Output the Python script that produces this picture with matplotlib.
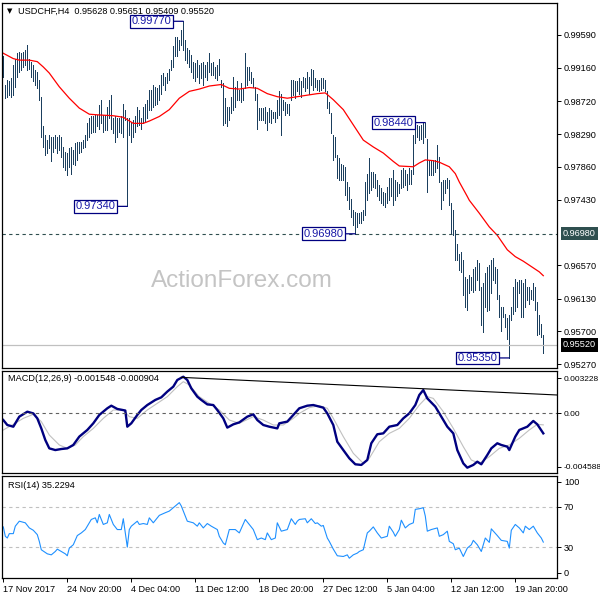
import numpy as np
import matplotlib.pyplot as plt

plt.rcParams['font.family'] = ['Liberation Sans', 'DejaVu Sans']

# H4 bars, 17 Nov 2017 12:00 .. 22 Jan 2018 (high / low)
bar_high = [
    0.9931, 0.9893, 0.9900, 0.9898, 0.9902, 0.9920, 0.9928, 0.9935, 0.9937, 0.9936,
    0.9937, 0.9939, 0.9946, 0.9928, 0.9924, 0.9920, 0.9913, 0.9911, 0.9900, 0.9878,
    0.9839, 0.9828, 0.9821, 0.9828, 0.9825, 0.9825, 0.9828, 0.9825, 0.9828, 0.9825,
    0.9812, 0.9806, 0.9804, 0.9810, 0.9812, 0.9808, 0.9817, 0.9819, 0.9819, 0.9819,
    0.9821, 0.9828, 0.9843, 0.9850, 0.9852, 0.9852, 0.9854, 0.9854, 0.9867, 0.9874,
    0.9854, 0.9854, 0.9865, 0.9874, 0.9880, 0.9850, 0.9852, 0.9850, 0.9850, 0.9852,
    0.9869, 0.9861, 0.9850, 0.9850, 0.9845, 0.9847, 0.9852, 0.9865, 0.9861, 0.9850,
    0.9865, 0.9869, 0.9874, 0.9887, 0.9887, 0.9893, 0.9891, 0.9889, 0.9893, 0.9907,
    0.9909, 0.9904, 0.9909, 0.9915, 0.9926, 0.9944, 0.9957, 0.9957, 0.9952, 0.9966,
    0.9977, 0.9952, 0.9942, 0.9939, 0.9933, 0.9924, 0.9922, 0.9926, 0.9920,
    0.9922, 0.9924, 0.9920, 0.9924, 0.9936, 0.9922, 0.9924, 0.9917, 0.9920, 0.9927,
    0.9900, 0.9896, 0.9876, 0.9865, 0.9865, 0.9878, 0.9904, 0.9891, 0.9898, 0.9887,
    0.9896, 0.9889, 0.9935, 0.9917, 0.9917, 0.9911, 0.9902, 0.9891, 0.9882, 0.9863,
    0.9863, 0.9863, 0.9865, 0.9858, 0.9863, 0.9861, 0.9858, 0.9858, 0.9874, 0.9885,
    0.9882, 0.9874, 0.9871, 0.9869, 0.9869, 0.9900, 0.9900, 0.9898, 0.9898, 0.9902,
    0.9898, 0.9904, 0.9902, 0.9911, 0.9904, 0.9915, 0.9913, 0.9902, 0.9900, 0.9900,
    0.9902, 0.9902, 0.9900, 0.9885, 0.9871, 0.9856, 0.9828, 0.9825, 0.9801, 0.9797,
    0.9790, 0.9788, 0.9786, 0.9766, 0.9760, 0.9744, 0.9729, 0.9727, 0.9725, 0.9725,
    0.9727, 0.9729, 0.9766, 0.9777, 0.9797, 0.9779, 0.9779, 0.9777, 0.9769, 0.9762,
    0.9758, 0.9753, 0.9751, 0.9760, 0.9771, 0.9771, 0.9782, 0.9769, 0.9766, 0.9764,
    0.9782, 0.9784, 0.9782, 0.9777, 0.9784, 0.9782, 0.9828, 0.9841, 0.9841, 0.9839,
    0.9841, 0.9843, 0.9844, 0.9823, 0.9795, 0.9793, 0.9795, 0.9795, 0.9814, 0.9799,
    0.9766, 0.9769, 0.9769, 0.9771, 0.9769, 0.9738, 0.9729, 0.9703, 0.9685, 0.9672,
    0.9674, 0.9663, 0.9641, 0.9639, 0.9644, 0.9641, 0.9652, 0.9655, 0.9663, 0.9659,
    0.9628, 0.9633, 0.9646, 0.9655, 0.9657, 0.9663, 0.9666, 0.9655, 0.9652, 0.9617,
    0.9602, 0.9602, 0.9593, 0.9587, 0.9591, 0.9602, 0.9628, 0.9639, 0.9635, 0.9637,
    0.9637, 0.9633, 0.9639, 0.9628, 0.9628, 0.9624, 0.9633, 0.9628, 0.9609, 0.9591,
    0.9580, 0.95651,
]
bar_low = [
    0.9904, 0.9876, 0.9878, 0.9880, 0.9878, 0.9880, 0.9891, 0.9904, 0.9911, 0.9913,
    0.9917, 0.9920, 0.9913, 0.9915, 0.9904, 0.9898, 0.9893, 0.9889, 0.9874, 0.9825,
    0.9812, 0.9801, 0.9804, 0.9810, 0.9793, 0.9806, 0.9810, 0.9804, 0.9808, 0.9799,
    0.9786, 0.9782, 0.9775, 0.9786, 0.9777, 0.9790, 0.9788, 0.9795, 0.9804, 0.9806,
    0.9810, 0.9812, 0.9821, 0.9825, 0.9830, 0.9832, 0.9832, 0.9839, 0.9836, 0.9843,
    0.9832, 0.9834, 0.9834, 0.9850, 0.9836, 0.9830, 0.9819, 0.9825, 0.9832, 0.9830,
    0.9825, 0.9847, 0.9734, 0.9828, 0.9819, 0.9825, 0.9832, 0.9839, 0.9841, 0.9836,
    0.9843, 0.9845, 0.9850, 0.9861, 0.9861, 0.9865, 0.9867, 0.9869, 0.9874, 0.9882,
    0.9893, 0.9887, 0.9896, 0.9900, 0.9913, 0.9917, 0.9931, 0.9931, 0.9939, 0.9946,
    0.9939, 0.9926, 0.9922, 0.9917, 0.9911, 0.9902, 0.9898, 0.9904, 0.9896,
    0.9902, 0.9893, 0.9904, 0.9900, 0.9911, 0.9907, 0.9907, 0.9902, 0.9900, 0.9907,
    0.9891, 0.9841, 0.9843, 0.9839, 0.9847, 0.9856, 0.9861, 0.9865, 0.9874, 0.9874,
    0.9871, 0.9874, 0.9889, 0.9893, 0.9900, 0.9896, 0.9891, 0.9874, 0.9836, 0.9847,
    0.9847, 0.9847, 0.9843, 0.9834, 0.9845, 0.9843, 0.9850, 0.9845, 0.9850, 0.9854,
    0.9828, 0.9861, 0.9854, 0.9856, 0.9854, 0.9874, 0.9880, 0.9876, 0.9885, 0.9882,
    0.9878, 0.9891, 0.9885, 0.9889, 0.9882, 0.9893, 0.9887, 0.9891, 0.9887, 0.9885,
    0.9887, 0.9889, 0.9885, 0.9863, 0.9856, 0.9830, 0.9795, 0.9799, 0.9771, 0.9769,
    0.9769, 0.9769, 0.9749, 0.9742, 0.9731, 0.9720, 0.9709, 0.9698, 0.9707, 0.9712,
    0.9712, 0.9716, 0.9723, 0.9742, 0.9751, 0.9755, 0.9760, 0.9758, 0.9747, 0.9742,
    0.9738, 0.9736, 0.9733, 0.9738, 0.9742, 0.9747, 0.9736, 0.9742, 0.9747, 0.9751,
    0.9758, 0.9760, 0.9762, 0.9755, 0.9764, 0.9764, 0.9777, 0.9817, 0.9825, 0.9821,
    0.9823, 0.9817, 0.9825, 0.9753, 0.9775, 0.9775, 0.9775, 0.9779, 0.9784, 0.9766,
    0.9731, 0.9742, 0.9751, 0.9758, 0.9736, 0.9698, 0.9696, 0.9663, 0.9663, 0.9650,
    0.9648, 0.9617, 0.9602, 0.9598, 0.9620, 0.9624, 0.9622, 0.9624, 0.9637, 0.9624,
    0.9578, 0.9569, 0.9602, 0.9596, 0.9598, 0.9620, 0.9637, 0.9633, 0.9613, 0.9589,
    0.9571, 0.9589, 0.9576, 0.9560, 0.9535, 0.9585, 0.9593, 0.9596, 0.9602, 0.9620,
    0.9589, 0.9589, 0.9602, 0.9611, 0.9606, 0.9613, 0.9611, 0.9598, 0.9565, 0.9567,
    0.9563, 0.95409,
]

# red moving average, sampled along the bars
ma_idx = [0, 5, 8, 13, 17, 20, 23, 28, 33, 38, 43, 48, 55, 60, 65, 70, 73, 78, 83, 88,
          93, 98, 103, 109, 113, 118, 123, 127, 132, 137, 142, 147, 152, 157, 161, 165,
          170, 175, 180, 185, 190, 195, 198, 205, 208, 211, 215, 218, 223, 226, 228, 232,
          233, 238, 243, 247, 252, 256, 260, 264, 268, 270]
ma_val = [0.9935, 0.9928, 0.9926, 0.9926, 0.9924, 0.9917, 0.9909, 0.9891, 0.9876, 0.9863,
          0.9855, 0.9854, 0.9853, 0.9851, 0.9843, 0.9843, 0.9846, 0.9852, 0.9861, 0.9876,
          0.9885, 0.9888, 0.9892, 0.9894, 0.9889, 0.9888, 0.9890, 0.9889, 0.9882, 0.9878,
          0.9876, 0.9878, 0.9880, 0.9882, 0.9883, 0.9874, 0.9861, 0.9841, 0.9821, 0.9812,
          0.9804, 0.9793, 0.9787, 0.9786, 0.9791, 0.9795, 0.9794, 0.9792, 0.9786, 0.9777,
          0.9766, 0.9747, 0.9742, 0.9725, 0.9707, 0.9696, 0.9677, 0.9668, 0.9662, 0.9655,
          0.9648, 0.9643]

price_ticks = [0.99590, 0.99160, 0.98720, 0.98290, 0.97860, 0.97430,
               0.96570, 0.96130, 0.95700, 0.95270]
level_price = 0.96980
last_close = 0.95520
swing_labels = [('0.99770', 90, 0.99770), ('0.97340', 62, 0.97340),
                ('0.96980', 176, 0.96980), ('0.98440', 211, 0.98440),
                ('0.95350', 253, 0.95350)]

macd_idx = [0, 2, 5, 8, 12, 15, 17, 19, 21, 23, 26, 29, 32, 35, 38, 42, 45, 48, 52, 54,
            57, 61, 62, 64, 67, 69, 72, 76, 79, 82, 85, 87, 90, 92, 94, 97, 99, 102, 105,
            107, 110, 112, 115, 118, 122, 125, 127, 130, 133, 137, 138, 142, 145, 148,
            152, 155, 160, 162, 165, 167, 170, 173, 176, 179, 182, 184, 187, 190, 193,
            197, 200, 203, 206, 208, 210, 212, 216, 219, 222, 225, 227, 230, 232, 235,
            237, 239, 242, 244, 247, 249, 252, 253, 256, 258, 262, 265, 267, 270]
macd_val = [-0.00053, -0.00091, -0.00104, -0.00027, 0.00011, -0.00002, -0.00040, -0.00117,
            -0.00206, -0.00270, -0.00283, -0.00275, -0.00270, -0.00244, -0.00180, -0.00129,
            -0.00078, -0.00014, 0.00037, 0.00057, 0.00032, 0.00020, -0.00104, -0.00078,
            -0.00014, 0.00024, 0.00062, 0.00101, 0.00121, 0.00165, 0.00203, 0.00254,
            0.00279, 0.00254, 0.00190, 0.00126, 0.00101, 0.00067, 0.00062, 0.00024,
            -0.00040, -0.00111, -0.00086, -0.00071, -0.00027, -0.00009, -0.00053, -0.00091,
            -0.00104, -0.00117, -0.00078, -0.00065, -0.00014, 0.00037, 0.00057, 0.00062,
            0.00042, -0.00002, -0.00091, -0.00219, -0.00283, -0.00346, -0.00392, -0.00397,
            -0.00359, -0.00231, -0.00162, -0.00155, -0.00104, -0.00091, -0.00040, -0.00002,
            0.00062, 0.00139, 0.00177, 0.00113, 0.00050, -0.00027, -0.00104, -0.00155,
            -0.00283, -0.00385, -0.00418, -0.00397, -0.00372, -0.00392, -0.00321, -0.00270,
            -0.00231, -0.00244, -0.00257, -0.00283, -0.00180, -0.00129, -0.00104, -0.00060,
            -0.00086, -0.00155]
sig_idx = [0, 5, 10, 15, 19, 23, 28, 32, 36, 40, 45, 50, 55, 60, 63, 67, 72, 77, 82, 87,
           90, 93, 98, 103, 108, 113, 118, 125, 130, 135, 140, 145, 148, 153, 158, 162,
           165, 170, 175, 180, 183, 188, 193, 198, 203, 208, 212, 215, 220, 225, 230, 234,
           238, 243, 248, 253, 258, 263, 267, 270]
sig_val = [-0.00129, -0.00086, -0.00040, -0.00009, -0.00065, -0.00168, -0.00244, -0.00270,
           -0.00244, -0.00180, -0.00117, -0.00040, 0.00024, 0.00024, -0.00027, -0.00040,
           0.00024, 0.00075, 0.00126, 0.00203, 0.00241, 0.00216, 0.00126, 0.00075, 0.00024,
           -0.00053, -0.00078, -0.00027, -0.00053, -0.00091, -0.00091, -0.00040, -0.00002,
           0.00042, 0.00057, 0.00037, -0.00040, -0.00180, -0.00308, -0.00385, -0.00346,
           -0.00219, -0.00155, -0.00117, -0.00040, 0.00062, 0.00126, 0.00113, 0.00011,
           -0.00117, -0.00257, -0.00359, -0.00385, -0.00334, -0.00270, -0.00244, -0.00193,
           -0.00129, -0.00086, -0.00090]
macd_trend_idx = [89, 276.85]
macd_trend_val = [0.00274, 0.00139]
macd_range = (-0.004588, 0.003228)

rsi_idx = [0, 1, 2, 3, 5, 6, 8, 11, 13, 15, 17, 18, 19, 22, 24, 26, 27, 29, 31, 32, 33, 35,
           37, 39, 41, 42, 44, 46, 47, 48, 50, 52, 53, 55, 57, 59, 60, 62, 63, 64, 67, 68,
           70, 72, 73, 75, 77, 78, 81, 83, 85, 87, 88, 89, 91, 92, 95, 97, 98, 100, 102,
           104, 107, 108, 110, 111, 113, 116, 118, 121, 123, 125, 127, 129, 131, 132, 134,
           136, 137, 139, 142, 144, 146, 147, 148, 151, 152, 154, 156, 157, 159, 160, 162,
           163, 165, 167, 170, 172, 173, 175, 177, 178, 180, 182, 183, 185, 187, 189, 192,
           193, 195, 196, 198, 199, 201, 203, 205, 206, 208, 210, 211, 212, 214, 217, 218,
           220, 222, 223, 225, 226, 228, 230, 232, 234, 235, 237, 239, 241, 243, 244, 247,
           249, 252, 253, 254, 256, 258, 260, 261, 263, 265, 267, 269, 270]
rsi_val = [50.1, 40.9, 39.2, 43.5, 43.5, 50.8, 55.7, 54.1, 49.1, 46.8, 42.5, 35.9, 27.7,
           23.7, 22.7, 26.0, 28.3, 26.0, 23.7, 21.8, 29.3, 32.6, 41.6, 44.2, 47.5, 50.8,
           57.4, 59.0, 54.1, 62.3, 52.5, 54.1, 62.3, 52.5, 47.5, 47.5, 58.1, 30.3, 47.5,
           50.8, 55.7, 52.5, 53.4, 52.5, 59.0, 54.1, 59.0, 61.4, 64.0, 65.6, 68.9, 72.2,
           73.9, 70.6, 60.7, 55.7, 54.1, 50.8, 54.1, 49.1, 53.4, 50.8, 47.5, 40.9, 34.3,
           32.6, 47.5, 47.5, 44.2, 57.4, 52.5, 47.5, 37.6, 39.2, 37.6, 44.2, 37.6, 39.2,
           54.1, 45.9, 47.5, 58.1, 52.5, 55.7, 57.4, 58.1, 54.1, 58.1, 53.4, 54.1, 50.8,
           51.5, 39.2, 35.9, 28.3, 21.8, 21.1, 22.7, 19.4, 22.7, 24.4, 26.0, 27.7, 44.2,
           45.9, 50.1, 44.2, 39.2, 40.9, 50.8, 44.9, 40.9, 47.5, 56.7, 49.1, 52.5, 54.1,
           67.3, 67.9, 68.9, 60.7, 45.9, 47.5, 49.1, 40.9, 42.5, 45.9, 35.9, 33.6, 27.7,
           29.3, 21.1, 29.3, 32.6, 36.9, 32.6, 26.0, 39.2, 34.9, 48.2, 41.6, 36.9, 35.9,
           29.3, 46.8, 52.5, 49.1, 44.2, 50.8, 47.5, 50.8, 44.2, 39.2, 35.2]

date_idx = [0, 32, 64, 96, 128, 160, 192, 224, 256]
date_labels = ['17 Nov 2017', '24 Nov 20:00', '4 Dec 04:00', '11 Dec 12:00', '18 Dec 20:00',
               '27 Dec 12:00', '5 Jan 04:00', '12 Jan 12:00', '19 Jan 20:00']

BAR = '#1b3f5e'
NAVY = '#000080'
FS = 6.6

fig = plt.figure(figsize=(6, 6), dpi=100)


def panel(top, bottom):
    return fig.add_axes([2 / 600, 1 - bottom / 600, 555 / 600, (bottom - top) / 600])


ax = panel(3, 368)
ax_m = panel(371, 473)
ax_r = panel(476, 578)

for a in (ax, ax_m, ax_r):
    a.set_xlim(-0.65, 276.85)
    a.yaxis.tick_right()
    a.tick_params(axis='y', direction='out', length=3, width=0.7, labelsize=FS, pad=2)
    a.tick_params(axis='x', length=0, labelbottom=False)
    for s in a.spines.values():
        s.set_linewidth(0.9)

# price panel: 1px bars on a 2px step
x = np.arange(len(bar_high))
ax.vlines(x, bar_low, bar_high, color=BAR, lw=0.5, antialiased=False)
ax.plot(ma_idx, ma_val, color='#ff0000', lw=0.9)
ax.axhline(level_price, color='#2f4f4f', lw=0.8, ls=(0, (3, 3)))
ax.axhline(last_close, color='#c0c0c0', lw=0.9)
ax.set_ylim(0.95218, 1.00010)
ax.set_yticks(price_ticks)
ax.set_yticklabels(['%.5f' % p for p in price_ticks])

for txt, i, p in swing_labels:
    ax.annotate(txt, xy=(i, p), xytext=(-12, 0), textcoords='offset pixels',
                ha='right', va='center', fontsize=8, color='#1a1aa8',
                bbox=dict(boxstyle='square,pad=0.12', fc='white', ec=NAVY, lw=0.9),
                arrowprops=dict(arrowstyle='-', color=NAVY, lw=0.9, shrinkA=0, shrinkB=0))

ytr = ax.get_yaxis_transform()
ax.text(1 + 6 / 555, level_price, '0.96980', transform=ytr, ha='left', va='center',
        fontsize=FS, color='white', clip_on=False,
        bbox=dict(boxstyle='square,pad=0.22', fc='#2f4f4f', ec='none'))
ax.text(1 + 6 / 555, last_close, '0.95520', transform=ytr, ha='left', va='center',
        fontsize=FS, color='white', clip_on=False,
        bbox=dict(boxstyle='square,pad=0.22', fc='black', ec='none'))

fig.text(242 / 600, 1 - 281 / 600, 'ActionForex.com', fontsize=17.5, color='#c4c4c4',
         ha='center', va='center')
fig.text(7 / 600, 1 - 11 / 600, '\u25bc', fontsize=5, ha='left', va='center',
         family=['DejaVu Sans'])
fig.text(18 / 600, 1 - 11 / 600, 'USDCHF,H4  0.95628 0.95651 0.95409 0.95520',
         fontsize=FS, ha='left', va='center')

# MACD panel
ax_m.plot(sig_idx, sig_val, color='#c0c0c0', lw=0.8)
ax_m.plot(macd_idx, macd_val, color=NAVY, lw=1.7, solid_joinstyle='round')
ax_m.plot(macd_trend_idx, macd_trend_val, color='black', lw=0.8)
ax_m.axhline(0, color='#606060', lw=0.8, ls=(0, (3, 3)))
ax_m.set_ylim(*macd_range)
ax_m.set_yticks([0.00269, 0.0, -0.00410])
ax_m.set_yticklabels(['0.003228', '0.00', '-0.004588'])
ax_m.tick_params(axis='y', labelsize=6.0, pad=1.5)
ax_m.text(6 / 555, 0.93, 'MACD(12,26,9) -0.001548 -0.000904', transform=ax_m.transAxes,
          ha='left', va='center', fontsize=FS)

# RSI panel
ax_r.axhline(70, color='#c0c0c0', lw=0.8, ls=(0, (3, 3)))
ax_r.axhline(30, color='#c0c0c0', lw=0.8, ls=(0, (3, 3)))
ax_r.plot(rsi_idx, rsi_val, color='#1e90ff', lw=0.8)
ax_r.set_ylim(0, 100)
ax_r.set_yticks([94.5, 70, 30, 5])
ax_r.set_yticklabels(['100', '70', '30', '0'])
ax_r.text(6 / 555, 0.91, 'RSI(14) 35.2294', transform=ax_r.transAxes,
          ha='left', va='center', fontsize=FS)
ax_r.set_xticks(date_idx)
ax_r.set_xticklabels(date_labels, ha='left')
ax_r.tick_params(axis='x', length=3, width=0.7, labelbottom=True, labelsize=FS, pad=2,
                 direction='out')

fig.savefig('out.png', dpi=100, facecolor='white')
